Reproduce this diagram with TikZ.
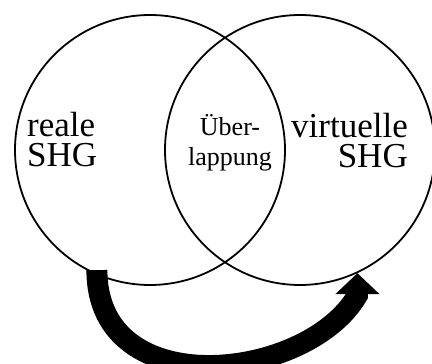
\documentclass[tikz,border=0pt]{standalone}
\usepackage{fontspec}
\setmainfont{Liberation Serif}
\usetikzlibrary{positioning,arrows.meta}

\begin{document}
\begin{tikzpicture}[x=1pt, y=1pt,
  shg/.style={circle, draw, line width=1.8pt, minimum size=270pt, inner sep=0pt},
  bigtext/.style={inner sep=0pt, font=\fontsize{35}{30}\selectfont},
  smalltext/.style={inner sep=0pt, align=center, font=\fontsize{26}{30}\selectfont}]

\useasboundingbox (0,0) rectangle (432,364);

\node[shg] (reale) at (150,214) {};
\node[shg] (virtuell) at (300,214) {};

\node[bigtext, align=left, anchor=west] (realetxt) at (27,224) {reale\\SHG};
\node[bigtext, align=right, anchor=east] (virttxt) at (408,223) {virtuelle\\SHG};
\node[smalltext] (overlap) at (230,221) {Über-\\lappung};

% curved arrow, straight at the head
\draw[line width=21pt, -{Triangle[width=43pt, length=21pt]}]
  ([yshift=5pt]reale.247) to[out=-90, in=-120, out looseness=1.32, in looseness=0.97]
  ([yshift=-22pt]virtuell.295.5) -- (virtuell.295.5);

\end{tikzpicture}
\end{document}
